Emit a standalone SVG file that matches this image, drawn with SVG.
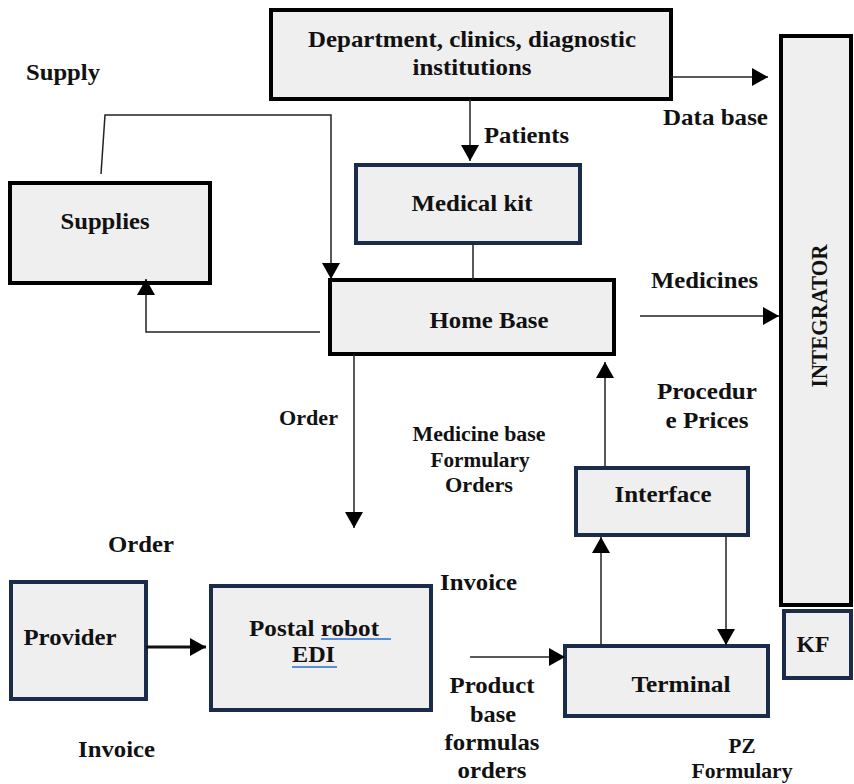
<svg xmlns="http://www.w3.org/2000/svg" width="854" height="784" viewBox="0 0 854 784">
<defs>
<marker id="ah" markerWidth="16" markerHeight="18" refX="16" refY="9" orient="auto" markerUnits="userSpaceOnUse">
<path d="M0,0 L16,9 L0,18 Z" fill="#000"/>
</marker>
<style>
.bk{fill:#efefef;stroke:#000;stroke-width:4}
.nv{fill:#efefef;stroke:#1b2c4a;stroke-width:4}
.t{font-family:"Liberation Serif","Times New Roman",serif;font-weight:bold;font-size:23px;fill:#111}
.s{font-size:20px}
.m{text-anchor:middle}
.ln{stroke:#222;stroke-width:1.5;fill:none}
.ar{stroke:#222;stroke-width:1.5;fill:none;marker-end:url(#ah)}
.ul{stroke:#5b8ed8;stroke-width:2}
</style>
</defs>
<g id="department">
<rect class="bk" x="271" y="10" width="400" height="89"/>
<text class="t m" x="472" y="47" textLength="328" lengthAdjust="spacingAndGlyphs">Department, clinics, diagnostic</text>
<text class="t m" x="472" y="75" textLength="119" lengthAdjust="spacingAndGlyphs">institutions</text>
</g>
<g id="medical-kit">
<rect class="nv" x="356" y="165" width="224" height="78"/>
<text class="t m" x="472" y="211" textLength="121" lengthAdjust="spacingAndGlyphs">Medical kit</text>
</g>
<g id="home-base">
<rect class="bk" x="330" y="280" width="284" height="74"/>
<text class="t m" x="489" y="328" textLength="119" lengthAdjust="spacingAndGlyphs">Home Base</text>
</g>
<g id="supplies">
<rect class="bk" x="10" y="183" width="200" height="100"/>
<text class="t m" x="105" y="229" textLength="89" lengthAdjust="spacingAndGlyphs">Supplies</text>
</g>
<g id="integrator">
<rect class="bk" x="781" y="36" width="70" height="569"/>
<text class="t m" x="0" y="0" transform="translate(827,316) rotate(-90)" textLength="143" lengthAdjust="spacingAndGlyphs">INTEGRATOR</text>
</g>
<g id="kf">
<rect class="nv" x="784" y="611" width="67" height="67"/>
<text class="t m" x="813" y="652" textLength="33" lengthAdjust="spacingAndGlyphs">KF</text>
</g>
<g id="interface">
<rect class="nv" x="576" y="468" width="172" height="67"/>
<text class="t m" x="663" y="502" textLength="97" lengthAdjust="spacingAndGlyphs">Interface</text>
</g>
<g id="terminal">
<rect class="nv" x="565" y="646" width="203" height="70"/>
<text class="t m" x="681" y="692" textLength="99" lengthAdjust="spacingAndGlyphs">Terminal</text>
</g>
<g id="provider">
<rect class="nv" x="11" y="582" width="135" height="117"/>
<text class="t m" x="70" y="645" textLength="93" lengthAdjust="spacingAndGlyphs">Provider</text>
</g>
<g id="postal-robot">
<rect class="nv" x="211" y="586" width="220" height="124"/>
<text class="t" x="249" y="636" textLength="130" lengthAdjust="spacingAndGlyphs">Postal robot</text>
<line class="ul" x1="321" y1="639" x2="391" y2="639"/>
<text class="t" x="292" y="662" textLength="43" lengthAdjust="spacingAndGlyphs">EDI</text>
<line class="ul" x1="292" y1="667" x2="337" y2="667"/>
</g>
<g id="connectors">
<line class="ar" x1="671" y1="77" x2="768" y2="77"/>
<line class="ar" x1="470" y1="99" x2="470" y2="161"/>
<line class="ln" x1="473" y1="243" x2="473" y2="280"/>
<polyline class="ar" points="101,174 105,115 331,115 331,279"/>
<polyline class="ar" points="320,332 146,332 146,279"/>
<line class="ar" x1="640" y1="316" x2="779" y2="316"/>
<line class="ar" x1="354" y1="354" x2="354" y2="528"/>
<line class="ar" x1="605" y1="466" x2="605" y2="362"/>
<line class="ar" x1="601" y1="645" x2="601" y2="537"/>
<line class="ar" x1="726" y1="535" x2="726" y2="645"/>
<line class="ar" x1="470" y1="657" x2="565" y2="657"/>
<line stroke="#111" stroke-width="3" marker-end="url(#ah)" x1="146" y1="647" x2="206" y2="647"/>
</g>
<g id="labels">
<text class="t" x="26" y="80" textLength="74" lengthAdjust="spacingAndGlyphs">Supply</text>
<text class="t" x="484" y="143" textLength="85" lengthAdjust="spacingAndGlyphs">Patients</text>
<text class="t" x="663" y="125" textLength="105" lengthAdjust="spacingAndGlyphs">Data base</text>
<text class="t" x="651" y="288" textLength="107" lengthAdjust="spacingAndGlyphs">Medicines</text>
<text class="t s" x="279" y="425" textLength="59" lengthAdjust="spacingAndGlyphs">Order</text>
<text class="t s m" x="479" y="441" textLength="133" lengthAdjust="spacingAndGlyphs">Medicine base</text>
<text class="t s m" x="480" y="467" textLength="99" lengthAdjust="spacingAndGlyphs">Formulary</text>
<text class="t s m" x="479" y="492" textLength="68" lengthAdjust="spacingAndGlyphs">Orders</text>
<text class="t m" x="707" y="399" textLength="100" lengthAdjust="spacingAndGlyphs">Procedur</text>
<text class="t m" x="707" y="428" textLength="83" lengthAdjust="spacingAndGlyphs">e Prices</text>
<text class="t" x="108" y="552" textLength="66" lengthAdjust="spacingAndGlyphs">Order</text>
<text class="t" x="440" y="590" textLength="77" lengthAdjust="spacingAndGlyphs">Invoice</text>
<text class="t" x="78" y="757" textLength="77" lengthAdjust="spacingAndGlyphs">Invoice</text>
<text class="t m" x="492" y="693" textLength="85" lengthAdjust="spacingAndGlyphs">Product</text>
<text class="t m" x="493" y="722" textLength="46" lengthAdjust="spacingAndGlyphs">base</text>
<text class="t m" x="492" y="750" textLength="95" lengthAdjust="spacingAndGlyphs">formulas</text>
<text class="t m" x="492" y="778" textLength="69" lengthAdjust="spacingAndGlyphs">orders</text>
<text class="t s m" x="742" y="753" textLength="27" lengthAdjust="spacingAndGlyphs">PZ</text>
<text class="t s m" x="742" y="778" textLength="101" lengthAdjust="spacingAndGlyphs">Formulary</text>
</g>
</svg>
